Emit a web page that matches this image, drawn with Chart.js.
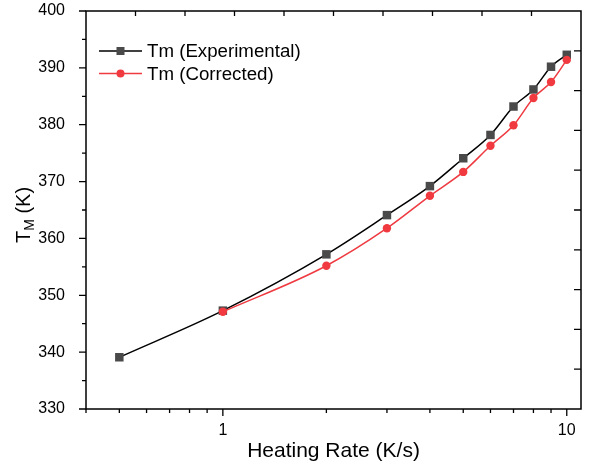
<!DOCTYPE html>
<html><head><meta charset="utf-8">
<script src="https://cdn.jsdelivr.net/npm/chart.js@4.4.1/dist/chart.umd.min.js"></script>
<style>html,body{margin:0;padding:0;background:#fff;}#wrap{width:592px;height:467px;}</style>
</head><body><div id="wrap"><canvas id="c" width="592" height="467"></canvas></div>
<script>
// ---- data ----
const heatingRateExp = [0.5, 1, 2, 3, 4, 5, 6, 7, 8, 9, 10];
const tmExperimental = [339.1, 347.3, 357.2, 364.1, 369.2, 374.1, 378.2, 383.2, 386.2, 390.2, 392.3];
const heatingRateCorr = [1, 2, 3, 4, 5, 6, 7, 8, 9, 10];
const tmCorrected = [347.1, 355.2, 361.8, 367.5, 371.7, 376.3, 379.9, 384.7, 387.5, 391.4];
const xMajorTicks = [1, 10];
const xMinorTicks = [0.4, 0.5, 0.6, 0.7, 0.8, 0.9, 2, 3, 4, 5, 6, 7, 8, 9];
const yMajorTicks = [330, 340, 350, 360, 370, 380, 390, 400];
const yMinorTicks = [335, 345, 355, 365, 375, 385, 395];
const seriesLabels = ['Tm (Experimental)', 'Tm (Corrected)'];
const xTitle = 'Heating Rate (K/s)';
const yTitleMain = 'T', yTitleSub = 'M', yTitleRest = ' (K)';

const FONT = "'Liberation Sans', Arial, sans-serif";
const BLACK_LINE = '#000000', SQUARE_FILL = '#4a4a4a';
const RED_LINE = '#ee3a40', RED_FILL = '#f03a40';

const expData = heatingRateExp.map((x, i) => ({x, y: tmExperimental[i]}));
const corData = heatingRateCorr.map((x, i) => ({x, y: tmCorrected[i]}));

const decor = {
  id: 'decor',
  afterDraw(chart) {
    const ctx = chart.ctx, a = chart.chartArea;
    const xs = chart.scales.x, ys = chart.scales.y;
    ctx.save();
    ctx.strokeStyle = '#000';
    ctx.lineWidth = 1.5;
    ctx.strokeRect(a.left, a.top, a.right - a.left, a.bottom - a.top);
    ctx.lineWidth = 1.3;
    ctx.beginPath();
    const tick = (x1, y1, x2, y2) => { ctx.moveTo(x1, y1); ctx.lineTo(x2, y2); };
    xMajorTicks.forEach(v => { const p = xs.getPixelForValue(v); tick(p, a.bottom, p, a.bottom + 7); });
    xMinorTicks.forEach(v => { const p = xs.getPixelForValue(v); tick(p, a.bottom, p, a.bottom + 4); });
    yMajorTicks.forEach(v => { const p = ys.getPixelForValue(v); tick(a.left, p, a.left - 7, p); });
    yMinorTicks.forEach(v => { const p = ys.getPixelForValue(v); tick(a.left, p, a.left - 4, p); });
    for (let i = 1; i < 10; i++) {
      const px = a.left + (a.right - a.left) * i / 10;
      tick(px, a.top, px, a.top + 5);
      const py = a.top + (a.bottom - a.top) * i / 10;
      tick(a.right, py, a.right - 7, py);
    }
    ctx.stroke();

    // y title with subscript
    ctx.fillStyle = '#000';
    ctx.translate(23, (a.top + a.bottom) / 2 + 5);
    ctx.rotate(-Math.PI / 2);
    ctx.textBaseline = 'alphabetic';
    const big = '20px ' + FONT, small = '14px ' + FONT;
    ctx.font = big; const w1 = ctx.measureText(yTitleMain).width;
    ctx.font = small; const w2 = ctx.measureText(yTitleSub).width;
    ctx.font = big; const w3 = ctx.measureText(yTitleRest).width;
    let x0 = -(w1 + w2 + w3) / 2;
    const base = 7;
    ctx.font = big; ctx.fillText(yTitleMain, x0, base);
    ctx.font = small; ctx.fillText(yTitleSub, x0 + w1, base + 4);
    ctx.font = big; ctx.fillText(yTitleRest, x0 + w1 + w2, base);
    ctx.restore();

    // legend
    ctx.save();
    const lx = a.left + 13, ly = a.top + 40, rowH = 22.5;
    chart.data.datasets.forEach((ds, i) => {
      const y = ly + i * rowH;
      ctx.strokeStyle = ds.borderColor; ctx.lineWidth = 1.5;
      ctx.beginPath(); ctx.moveTo(lx, y); ctx.lineTo(lx + 43, y); ctx.stroke();
      ctx.fillStyle = ds.pointBackgroundColor;
      const cx = lx + 21.5;
      if (ds.pointStyle === 'rect') { ctx.fillRect(cx - 4, y - 4, 8, 8); }
      else { ctx.beginPath(); ctx.arc(cx, y, 4, 0, Math.PI * 2); ctx.fill(); }
      ctx.fillStyle = '#000'; ctx.font = '18.7px ' + FONT; ctx.textBaseline = 'middle';
      ctx.fillText(ds.label, lx + 48, y + 1);
    });
    ctx.restore();
  }
};

new Chart(document.getElementById('c'), {
  type: 'line',
  data: {
    datasets: [
      { label: seriesLabels[0], data: expData, borderColor: BLACK_LINE, borderWidth: 1.5,
        pointStyle: 'rect', pointRadius: 6, pointBackgroundColor: SQUARE_FILL, pointBorderColor: SQUARE_FILL,
        pointBorderWidth: 0, cubicInterpolationMode: 'monotone', order: 1 },
      { label: seriesLabels[1], data: corData, borderColor: RED_LINE, borderWidth: 1.5,
        pointStyle: 'circle', pointRadius: 4.2, pointBackgroundColor: RED_FILL, pointBorderColor: RED_FILL,
        pointBorderWidth: 0, cubicInterpolationMode: 'monotone', order: 0 }
    ]
  },
  options: {
    responsive: false, animation: false, devicePixelRatio: 1,
    layout: { padding: { top: 11, right: 11, left: 0, bottom: 0 } },
    plugins: { legend: { display: false }, tooltip: { enabled: false } },
    scales: {
      x: {
        type: 'logarithmic', min: 0.4, max: 11,
        grid: { display: false }, border: { display: false },
        afterBuildTicks: s => { s.ticks = xMajorTicks.map(v => ({value: v})); },
        afterFit: s => { s.height = 58; s.paddingLeft = 0; s.paddingRight = 0; },
        ticks: { autoSkip: false, maxRotation: 0, padding: 4, color: '#000',
          font: { family: FONT, size: 16 }, callback: v => String(v) },
        title: { display: true, text: xTitle, color: '#000', font: { family: FONT, size: 21 }, padding: { top: 0, bottom: 3.5 } }
      },
      y: {
        type: 'linear', min: 330, max: 400,
        grid: { display: false }, border: { display: false },
        afterBuildTicks: s => { s.ticks = yMajorTicks.map(v => ({value: v})); },
        afterFit: s => { s.width = 86; s.paddingTop = 0; s.paddingBottom = 0; },
        ticks: { autoSkip: false, padding: 13, color: '#000', font: { family: FONT, size: 16 } }
      }
    }
  },
  plugins: [decor]
});
</script></body></html>
